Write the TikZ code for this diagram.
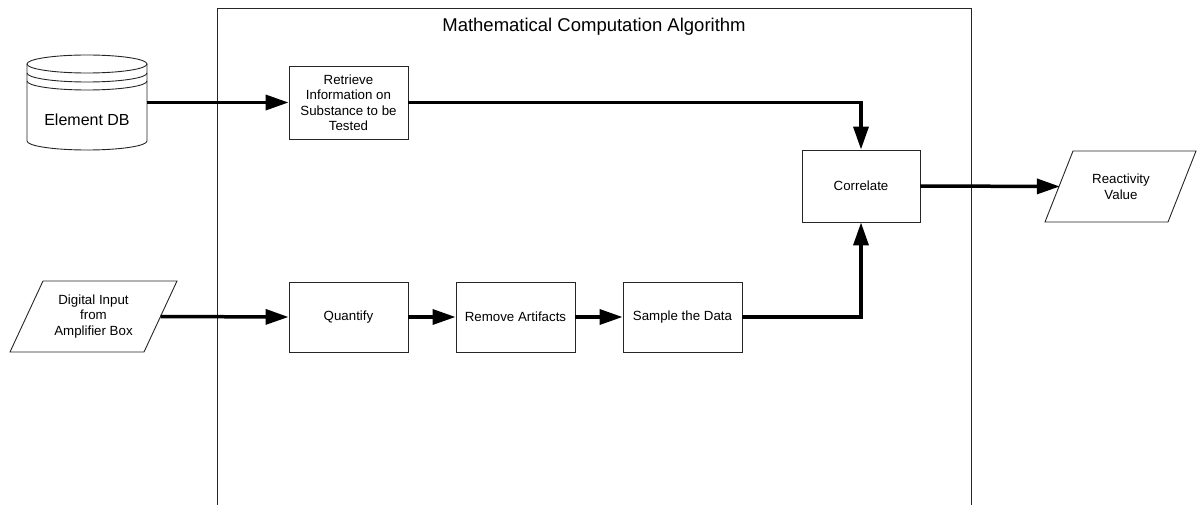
\documentclass[tikz,border=0pt]{standalone}
\usepackage{fontspec}
\setmainfont{Liberation Sans}
\usetikzlibrary{arrows.meta}
\begin{document}
\begin{tikzpicture}[x=1pt,y=-1pt,
  thinline/.style={draw=black!85, line width=0.9pt},
  flow/.style={line width=3.5pt, -{Triangle[length=23pt,width=15pt]}},
  proc/.style={thinline, fill=white, minimum width=119pt, minimum height=71pt, inner sep=0pt,
    font=\fontsize{13.3}{15.5}\selectfont, align=center},
  iotext/.style={minimum height=71pt, inner sep=0pt,
    font=\fontsize{13.3}{15.5}\selectfont, align=center},
  titletext/.style={font=\fontsize{18.5}{22}\selectfont, inner sep=0pt}
]
\useasboundingbox (0,0) rectangle (1197,505);

% outer frame (open at the bottom, cut by the picture edge)
\draw[thinline] (217,505) -- (217,8) -- (971,8) -- (971,505);
\node[titletext] (title) at (594,27) {Mathematical Computation Algorithm};

% database cylinder
\draw[thinline, fill=white] (27,64) -- (27,141) arc[start angle=180, end angle=0, x radius=60, y radius=9] -- (147,64);
\draw[thinline] (87,64) ellipse[x radius=60, y radius=9];
\draw[thinline] (27,73) arc[start angle=180, end angle=0, x radius=60, y radius=9];
\draw[thinline] (27,81) arc[start angle=180, end angle=0, x radius=60, y radius=9];
\node[font=\fontsize{16}{19}\selectfont, inner sep=0pt, minimum width=120pt] (db) at (87,120) {Element DB};

% input parallelogram
\draw[thinline] (43,281) -- (177,281) -- (144,352) -- (10,352) -- cycle;
\node[iotext, minimum width=134pt] (din) at (93.5,316.5) {Digital Input\\from\\Amplifier Box};

% output parallelogram
\draw[thinline] (1073,151) -- (1196,151) -- (1168,222) -- (1045,222) -- cycle;
\node[iotext, minimum width=122pt] (rv) at (1121,186.5) {Reactivity\\Value};

% process boxes
\node[proc, minimum height=73pt] (ret) at (348.5,102.5) {Retrieve\\Information on\\Substance to be\\Tested};
\node[proc, minimum width=118pt, minimum height=72pt] (cor) at (861,186) {Correlate};
\node[proc, minimum height=70pt] (q) at (348.5,317) {Quantify};
\node[proc, minimum height=70pt] (rem) at (515.5,317) {Remove Artifacts};
\node[proc, minimum height=70pt] (samp) at (682.5,317) {Sample the Data};

% connectors
\draw[flow] (db.east |- ret.west) -- (ret.west);
\draw[flow] (ret.east) -| (cor.north);
\draw[flow] (din.east) -- (q.west);
\draw[flow] (q.east) -- (rem.west);
\draw[flow] (rem.east) -- (samp.west);
\draw[flow] (samp.east) -| (cor.south);
\draw[flow] (cor.east) -- (rv.west);
\end{tikzpicture}
\end{document}
